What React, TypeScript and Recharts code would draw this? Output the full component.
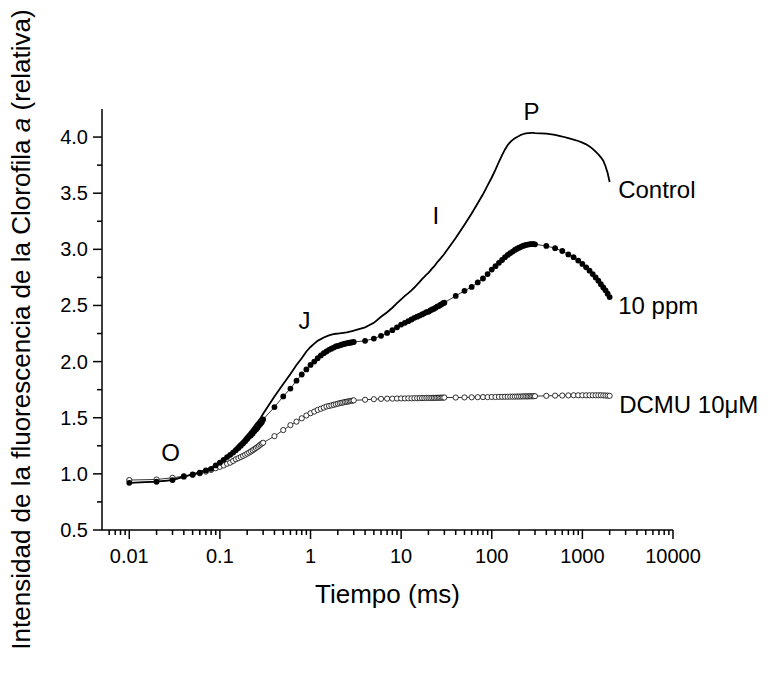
import React from 'react';
import { LineChart, Line, XAxis, YAxis, ReferenceDot } from 'recharts';

const FONT = "'Liberation Sans', Arial, Helvetica, sans-serif";

// Tiempo (ms) – sampling times of the OJIP transient
const timeMs = [
  0.01, 0.02, 0.03, 0.04, 0.05, 0.06, 0.07, 0.08, 0.09, 0.1,
  0.11, 0.12, 0.13, 0.14, 0.15, 0.16, 0.17, 0.18, 0.19, 0.2,
  0.21, 0.22, 0.23, 0.24, 0.25, 0.26, 0.27, 0.28, 0.29, 0.3,
  0.4, 0.5, 0.6, 0.7, 0.8, 0.9, 1.0,
  1.1, 1.2, 1.3, 1.4, 1.5, 1.6, 1.7, 1.8, 1.9, 2.0,
  2.1, 2.2, 2.3, 2.4, 2.5, 2.6, 2.7, 2.8, 2.9, 3.0,
  4, 5, 6, 7, 8, 9, 10,
  11, 12, 13, 14, 15, 16, 17, 18, 19, 20,
  21, 22, 23, 24, 25, 26, 27, 28, 29, 30,
  40, 50, 60, 70, 80, 90, 100,
  110, 120, 130, 140, 150, 160, 170, 180, 190, 200,
  210, 220, 230, 240, 250, 260, 270, 280, 290, 300,
  400, 500, 600, 700, 800, 900, 1000,
  1100, 1200, 1300, 1400, 1500, 1600, 1700, 1800, 1900, 2000,
];

const control = [
  0.92, 0.93, 0.945, 0.975, 0.995, 1.015, 1.035, 1.055, 1.08, 1.11,
  1.135, 1.16, 1.185, 1.21, 1.235, 1.26, 1.28, 1.3, 1.325, 1.345,
  1.365, 1.385, 1.405, 1.425, 1.445, 1.46, 1.48, 1.495, 1.515, 1.535,
  1.69, 1.8, 1.89, 1.97, 2.03, 2.09, 2.13,
  2.16, 2.185, 2.2, 2.215, 2.225, 2.233, 2.24, 2.245, 2.248, 2.25,
  2.252, 2.254, 2.256, 2.258, 2.26, 2.263, 2.266, 2.269, 2.272, 2.275,
  2.305, 2.345, 2.4, 2.44, 2.48, 2.52, 2.555,
  2.585, 2.61, 2.635, 2.66, 2.685, 2.71, 2.735, 2.755, 2.775, 2.79,
  2.81, 2.83, 2.845, 2.865, 2.885, 2.9, 2.915, 2.93, 2.945, 2.96,
  3.1, 3.22, 3.32, 3.41, 3.49, 3.57, 3.64,
  3.71, 3.78, 3.84, 3.89, 3.93, 3.955, 3.975, 3.99, 4.0, 4.01,
  4.02, 4.025, 4.03, 4.033, 4.035, 4.036, 4.037, 4.037, 4.037, 4.036,
  4.03, 4.02, 4.005, 3.99, 3.978, 3.965, 3.95,
  3.935, 3.915, 3.895, 3.87, 3.845, 3.82, 3.79, 3.74, 3.68, 3.6,
];

const ppm10 = [
  0.92, 0.93, 0.945, 0.975, 0.995, 1.01, 1.03, 1.045, 1.075, 1.1,
  1.125, 1.15, 1.17, 1.19, 1.21, 1.23, 1.25, 1.27, 1.29, 1.31,
  1.33, 1.345, 1.36, 1.38, 1.395, 1.41, 1.43, 1.445, 1.46, 1.485,
  1.595, 1.69, 1.76, 1.83, 1.885, 1.93, 1.97,
  2.0, 2.03, 2.055, 2.075, 2.09, 2.105, 2.115, 2.125, 2.135, 2.14,
  2.145, 2.15, 2.155, 2.16, 2.163, 2.166, 2.168, 2.17, 2.172, 2.175,
  2.185, 2.205, 2.23, 2.255, 2.28, 2.305, 2.33,
  2.345, 2.36, 2.375, 2.39, 2.4, 2.41, 2.42, 2.43, 2.44, 2.445,
  2.455, 2.465, 2.47, 2.48, 2.49, 2.495, 2.505, 2.51, 2.52, 2.525,
  2.585, 2.63, 2.665, 2.705, 2.74, 2.78, 2.82,
  2.85, 2.88, 2.905, 2.93, 2.95, 2.965, 2.98, 2.995, 3.005, 3.015,
  3.022, 3.03, 3.035, 3.04, 3.042, 3.045, 3.046, 3.046, 3.046, 3.045,
  3.03, 3.01, 2.985, 2.955, 2.93, 2.9, 2.87,
  2.84, 2.81, 2.78, 2.75, 2.72, 2.69, 2.66, 2.635, 2.605, 2.575,
];

const dcmu = [
  0.945, 0.95, 0.965, 0.98, 0.99, 1.005, 1.02, 1.035, 1.05, 1.063,
  1.075, 1.09, 1.1, 1.115, 1.13, 1.14, 1.15, 1.16, 1.17, 1.18,
  1.19, 1.2, 1.21, 1.22, 1.23, 1.24, 1.25, 1.26, 1.27, 1.277,
  1.336, 1.39, 1.434, 1.465, 1.495, 1.52, 1.54,
  1.555, 1.57, 1.58, 1.59, 1.6, 1.605, 1.61, 1.615, 1.62, 1.625,
  1.63, 1.633, 1.636, 1.64, 1.642, 1.645, 1.647, 1.65, 1.652, 1.655,
  1.66, 1.665, 1.668, 1.67, 1.67, 1.671, 1.672,
  1.672, 1.673, 1.673, 1.674, 1.674, 1.675, 1.675, 1.675, 1.676, 1.676,
  1.676, 1.677, 1.677, 1.677, 1.678, 1.678, 1.678, 1.679, 1.679, 1.68,
  1.68, 1.681, 1.682, 1.683, 1.684, 1.684, 1.685,
  1.685, 1.686, 1.686, 1.687, 1.687, 1.688, 1.688, 1.688, 1.689, 1.689,
  1.689, 1.69, 1.69, 1.69, 1.69, 1.691, 1.691, 1.691, 1.692, 1.692,
  1.695, 1.697, 1.698, 1.699, 1.7, 1.7, 1.7,
  1.7, 1.7, 1.7, 1.7, 1.7, 1.7, 1.699, 1.698, 1.697, 1.695,
];

const xMajorTicks = [0.01, 0.1, 1, 10, 100, 1000, 10000];
const xMinorTicks = [
  0.006, 0.007, 0.008, 0.009,
  0.02, 0.03, 0.04, 0.05, 0.06, 0.07, 0.08, 0.09,
  0.2, 0.3, 0.4, 0.5, 0.6, 0.7, 0.8, 0.9,
  2, 3, 4, 5, 6, 7, 8, 9,
  20, 30, 40, 50, 60, 70, 80, 90,
  200, 300, 400, 500, 600, 700, 800, 900,
  2000, 3000, 4000, 5000, 6000, 7000, 8000, 9000,
];
const yMajorTicks = [0.5, 1.0, 1.5, 2.0, 2.5, 3.0, 3.5, 4.0];
const yMinorTicks = [0.75, 1.25, 1.75, 2.25, 2.75, 3.25, 3.75];

const annotations = [
  { text: 'O', t: 0.0285, v: 1.19, position: 'center' },
  { text: 'J', t: 0.856, v: 2.368, position: 'center' },
  { text: 'I', t: 24.1, v: 3.302, position: 'center' },
  { text: 'P', t: 274, v: 4.228, position: 'center' },
  { text: 'Control', t: 2483, v: 3.529, position: 'right' },
  { text: '10 ppm', t: 2483, v: 2.497, position: 'right' },
  { text: 'DCMU 10\u03BCM', t: 2547, v: 1.617, position: 'right' },
];

const data = timeMs.map((t, i) => ({
  t,
  control: control[i],
  ppm10: ppm10[i],
  dcmu: dcmu[i],
}));

const xTicksAll = [...xMajorTicks, ...xMinorTicks].sort((a, b) => a - b);
const yTicksAll = [...yMajorTicks, ...yMinorTicks].sort((a, b) => a - b);

const XTick = (props: any) => {
  const { x, y, payload } = props;
  const major = xMajorTicks.includes(payload.value);
  return (
    <g>
      <line x1={x} x2={x} y1={y} y2={y + (major ? 9 : 5)} stroke="#000" strokeWidth={1.5} />
      {major && (
        <text x={x} y={y + 33} textAnchor="middle" fontSize={20} fontFamily={FONT} fill="#000">
          {String(payload.value)}
        </text>
      )}
    </g>
  );
};

const YTick = (props: any) => {
  const { x, y, payload } = props;
  const major = yMajorTicks.includes(payload.value);
  return (
    <g>
      <line x1={x} x2={x - (major ? 9 : 5)} y1={y} y2={y} stroke="#000" strokeWidth={1.5} />
      {major && (
        <text x={x - 14} y={y + 7} textAnchor="end" fontSize={20} fontFamily={FONT} fill="#000">
          {Number(payload.value).toFixed(1)}
        </text>
      )}
    </g>
  );
};

const XTitle = (props: any) => {
  const vb = props.viewBox || { x: 102, y: 530, width: 571, height: 80 };
  return (
    <text x={vb.x + vb.width / 2} y={vb.y + 72.5} textAnchor="middle" fontSize={26} fontFamily={FONT} fill="#000">
      Tiempo (ms)
    </text>
  );
};

const YTitle = (props: any) => {
  const vb = props.viewBox || { x: 22, y: 109, width: 80, height: 421 };
  const cx = vb.x + 8;
  const cy = vb.y + vb.height / 2 + 10;
  return (
    <text
      x={cx}
      y={cy}
      transform={`rotate(-90 ${cx} ${cy})`}
      textAnchor="middle"
      fontSize={26}
      fontFamily={FONT}
      fill="#000"
    >
      {'Intensidad de la fluorescencia de la Clorofila '}
      <tspan fontStyle="italic">a</tspan>
      {' (relativa)'}
    </text>
  );
};

export default function App() {
  return (
    <div style={{ position: 'absolute', left: 0, top: 0, width: 772, height: 674, fontFamily: FONT }}>
      <LineChart
        width={772}
        height={674}
        data={data}
        margin={{ top: 109, right: 99, bottom: 64, left: 22 }}
      >
        <XAxis
          dataKey="t"
          type="number"
          scale="log"
          domain={[0.005, 10000]}
          allowDataOverflow
          ticks={xTicksAll}
          interval={0}
          tick={<XTick />}
          tickLine={false}
          tickSize={0}
          tickMargin={0}
          height={80}
          axisLine={{ stroke: '#000', strokeWidth: 1.5 }}
          label={<XTitle />}
        />
        <YAxis
          type="number"
          domain={[0.5, 4.25]}
          allowDataOverflow
          ticks={yTicksAll}
          interval={0}
          tick={<YTick />}
          tickLine={false}
          tickSize={0}
          tickMargin={0}
          width={80}
          axisLine={{ stroke: '#000', strokeWidth: 1.5 }}
          label={<YTitle />}
        />
        <Line
          dataKey="dcmu"
          type="linear"
          stroke="#000"
          strokeWidth={0.8}
          dot={{ r: 2.6, fill: '#fff', stroke: '#000', strokeWidth: 0.8 }}
          isAnimationActive={false}
        />
        <Line
          dataKey="ppm10"
          type="linear"
          stroke="#000"
          strokeWidth={0.8}
          dot={{ r: 2.9, fill: '#000', stroke: '#000', strokeWidth: 0 }}
          isAnimationActive={false}
        />
        <Line
          dataKey="control"
          type="linear"
          stroke="#000"
          strokeWidth={1.8}
          dot={false}
          isAnimationActive={false}
        />
        {annotations.map((a) => (
          <ReferenceDot
            key={a.text}
            x={a.t}
            y={a.v}
            r={0}
            fill="none"
            stroke="none"
            ifOverflow="visible"
            label={{
              value: a.text,
              position: a.position as any,
              offset: 0,
              fontSize: 24,
              fontFamily: FONT,
              fill: '#000',
            }}
          />
        ))}
      </LineChart>
    </div>
  );
}
